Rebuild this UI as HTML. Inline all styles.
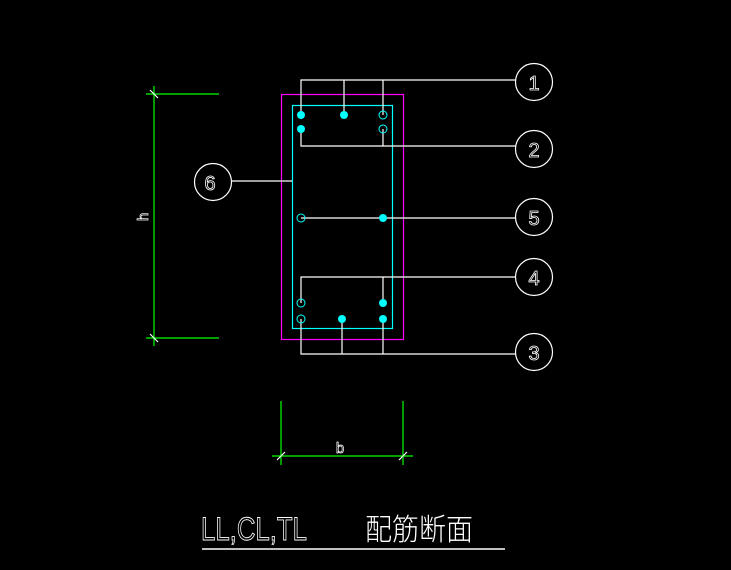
<!DOCTYPE html>
<html><head><meta charset="utf-8"><style>
html,body{margin:0;padding:0;background:#000;width:731px;height:570px;overflow:hidden}
</style></head><body>
<svg width="731" height="570" viewBox="0 0 731 570" xmlns="http://www.w3.org/2000/svg" style="display:block">
<rect width="731" height="570" fill="#000"/>
<g stroke="#00ff00" stroke-width="1.2" fill="none">
<line x1="154" y1="86" x2="154" y2="346"/>
<line x1="146" y1="94" x2="219" y2="94"/>
<line x1="146" y1="338" x2="219" y2="338"/>
<line x1="281" y1="401" x2="281" y2="465"/>
<line x1="403" y1="401" x2="403" y2="465"/>
<line x1="272" y1="456" x2="413" y2="456"/>
</g>
<g stroke="#fff" stroke-width="1.2">
<line x1="150" y1="90" x2="158" y2="98"/>
<line x1="150" y1="334" x2="158" y2="342"/>
<line x1="277" y1="460" x2="285" y2="452"/>
<line x1="399" y1="460" x2="407" y2="452"/>
</g>
<text x="0" y="0" transform="translate(148,217) rotate(-90)" fill="none" stroke="#fff" stroke-width="0.7" font-family="Liberation Sans,sans-serif" font-size="15" text-anchor="middle">h</text>
<text x="340" y="453" fill="none" stroke="#fff" stroke-width="0.7" font-family="Liberation Sans,sans-serif" font-size="15" text-anchor="middle">b</text>
<rect x="281.5" y="94.5" width="122" height="245" fill="none" stroke="#ff00ff" stroke-width="1.2"/>
<rect x="292.5" y="105.5" width="100" height="223" fill="none" stroke="#00ffff" stroke-width="1.2"/>
<g stroke="#fff" stroke-width="1.2" fill="none">
<polyline points="301,115 301,80 516,80"/>
<line x1="344" y1="80" x2="344" y2="115"/>
<line x1="383" y1="80" x2="383" y2="115"/>
<polyline points="301,129 301,146 516,146"/>
<line x1="383" y1="129" x2="383" y2="146"/>
<line x1="301" y1="218" x2="516" y2="218"/>
<polyline points="301,303 301,277 516,277"/>
<line x1="383" y1="277" x2="383" y2="303"/>
<polyline points="301,319 301,354 516,354"/>
<line x1="342" y1="319" x2="342" y2="354"/>
<line x1="383" y1="319" x2="383" y2="354"/>
<line x1="231" y1="181" x2="292" y2="181"/>
</g>
<g fill="#00ffff">
<circle cx="301" cy="115" r="4"/><circle cx="344" cy="115" r="4"/>
<circle cx="301" cy="129" r="4"/><circle cx="383" cy="218" r="4"/>
<circle cx="383" cy="303" r="4"/><circle cx="342" cy="319" r="4"/><circle cx="383" cy="319" r="4"/>
</g>
<g fill="none" stroke="#00ffff" stroke-width="1">
<circle cx="383" cy="115" r="4"/><circle cx="383" cy="129" r="4"/>
<circle cx="301" cy="218" r="4"/><circle cx="301" cy="303" r="4"/><circle cx="301" cy="319" r="4"/>
</g>
<g fill="none" stroke="#fff" stroke-width="1.2">
<circle cx="534" cy="82" r="18.5"/>
<circle cx="534" cy="149" r="18.5"/>
<circle cx="534" cy="217" r="18.5"/>
<circle cx="534" cy="277" r="18.5"/>
<circle cx="534" cy="352" r="18.5"/>
<circle cx="213" cy="182" r="18.5"/>
</g>
<g fill="none" stroke="#fff" stroke-width="0.8" font-family="Liberation Sans,sans-serif" font-size="20" text-anchor="middle">
<text x="534" y="90">1</text>
<text x="534" y="157">2</text>
<text x="534" y="225">5</text>
<text x="534" y="285">4</text>
<text x="534" y="360">3</text>
<text x="210" y="190">6</text>
</g>
<text x="201" y="540" fill="none" stroke="#fff" stroke-width="0.9" font-family="Liberation Sans,sans-serif" font-size="32" textLength="106" lengthAdjust="spacingAndGlyphs">LL,CL,TL</text>
<text x="365" y="540" fill="#fff" font-family="Liberation Sans,Noto Sans CJK SC,sans-serif" font-size="30" textLength="108" lengthAdjust="spacingAndGlyphs" style="font-weight:300">配筋断面</text>
<line x1="202" y1="549" x2="505" y2="549" stroke="#fff" stroke-width="1.5"/>
</svg>
</body></html>
